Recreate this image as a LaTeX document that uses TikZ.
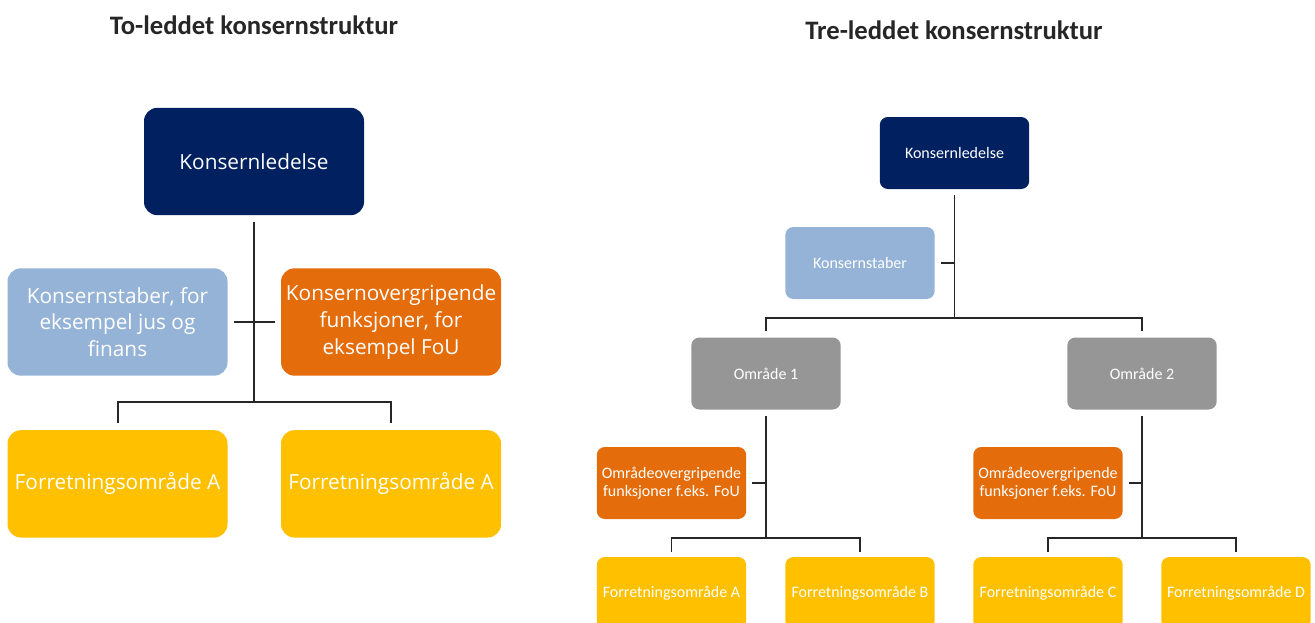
\documentclass[tikz,border=0pt]{standalone}
\usepackage{fontspec}
\setmainfont{Carlito}
\newfontfamily\opensans{Open Sans}
\usetikzlibrary{positioning}

\definecolor{navy}{RGB}{0,32,96}
\definecolor{staff}{RGB}{149,179,215}
\definecolor{orng}{RGB}{228,108,10}
\definecolor{gold}{RGB}{255,192,0}
\definecolor{area}{RGB}{150,150,150}
\definecolor{wirecol}{RGB}{38,38,38}

\tikzset{
  bigbox/.style={rounded corners=10pt, minimum width=165pt, minimum height=80.5pt,
    inner sep=2pt, align=center, text=white,
    font=\opensans\fontsize{15.6}{20}\selectfont},
  smallbox/.style={rounded corners=6pt, minimum width=112pt, minimum height=54pt,
    inner sep=1pt, align=center, text=white, font=\fontsize{12}{13.5}\selectfont},
  wire/.style={draw=wirecol, line width=1.5pt},
  thinwire/.style={draw=wirecol, line width=1.3pt},
  title/.style={font=\bfseries\fontsize{20}{24}\selectfont, text=black!85}
}

\begin{document}
\begin{tikzpicture}[x=0.75pt, y=-0.75pt]
    \useasboundingbox (0,0) rectangle (1315,622);

    % to-leddet
    \node[title] (T1) at (254,25) {To-leddet konsernstruktur};
    \node[bigbox, fill=navy] (A) at (254,161.5) {Konsernledelse};
    \node[bigbox, fill=staff] (B) at (117.5,322) {Konsernstaber, for\\eksempel jus og\\finans};
    \node[bigbox, fill=orng] [right=39.75pt of B] (C) {Konsernovergripende\\funksjoner, for\\eksempel FoU};
    \node[bigbox, fill=gold] [below=40.5pt of B] (D1) {Forretningsområde A};
    \node[bigbox, fill=gold] [below=40.5pt of C] (D2) {Forretningsområde A};
    \coordinate (Aj) at (254,402);

    \draw[wire] ([yshift=-5.25pt]A.south) -- (Aj);
    \draw[wire] ([xshift=4.5pt]B.east) -- ([xshift=-4.5pt]C.west);
    \draw[wire] ([yshift=5.25pt]D1.north) |- (Aj) -| ([yshift=5.25pt]D2.north);

    % tre-leddet
    \node[title] (T2) at (954,30) {Tre-leddet konsernstruktur};
    \node[smallbox, fill=navy] (RA) at (954.5,153) {Konsernledelse};
    \node[smallbox, fill=staff] (RB) at (860,263) {Konsernstaber};
    \node[smallbox, fill=area] (O1) at (766,373.5) {Område 1};
    \node[smallbox, fill=area] (O2) at (1142,373.5) {Område 2};
    \node[smallbox, fill=orng] (P1) at (671.5,483) {Områdeovergripende\\funksjoner f.eks. FoU};
    \node[smallbox, fill=orng] (P2) at (1048,483) {Områdeovergripende\\funksjoner f.eks. FoU};
    \node[smallbox, fill=gold] (FA) at (671.5,593) {Forretningsområde A};
    \node[smallbox, fill=gold] (FB) at (860,593) {Forretningsområde B};
    \node[smallbox, fill=gold] (FC) at (1048,593) {Forretningsområde C};
    \node[smallbox, fill=gold] (FD) at (1236,593) {Forretningsområde D};
    \coordinate (Rj) at (954.5,318);
    \coordinate (J1) at (766,538);
    \coordinate (J2) at (1142,538);

    \draw[thinwire] ([yshift=-4.5pt]RA.south) -- (Rj);
    \draw[thinwire] ([xshift=4.5pt]RB.east) -- (RB.east -| RA.south);
    \draw[thinwire] ([yshift=4.5pt]O1.north) |- (Rj) -| ([yshift=4.5pt]O2.north);
    \draw[thinwire] ([yshift=-4.5pt]O1.south) -- (J1);
    \draw[thinwire] ([yshift=-4.5pt]O2.south) -- (J2);
    \draw[thinwire] ([xshift=4.5pt]P1.east) -- (P1.east -| O1.south);
    \draw[thinwire] ([xshift=4.5pt]P2.east) -- (P2.east -| O2.south);
    \draw[thinwire] ([yshift=3.75pt]FA.north) |- (J1) -| ([yshift=3.75pt]FB.north);
    \draw[thinwire] ([yshift=3.75pt]FC.north) |- (J2) -| ([yshift=3.75pt]FD.north);
\end{tikzpicture}
\end{document}
